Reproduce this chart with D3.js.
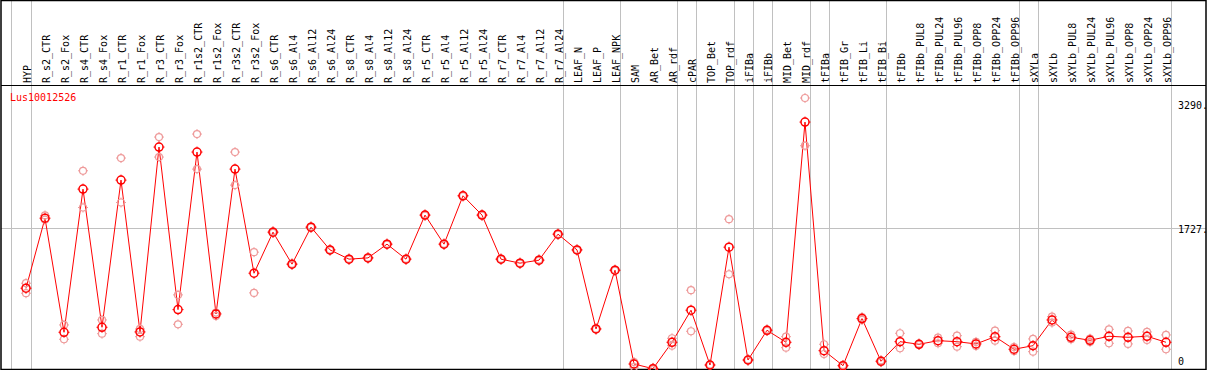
<!DOCTYPE html>
<html>
<head>
<meta charset="utf-8">
<script src="https://cdn.jsdelivr.net/npm/d3@7"></script>
<style>
  body { margin: 0; background: #fff; }
  text { font-family: "DejaVu Sans Mono", monospace; font-size: 10px; }
</style>
</head>
<body>
<div id="chart"></div>
<script>
const geneName = "Lus10012526";

const samples = ["HYP", "R_s2_CTR", "R_s2_Fox", "R_s4_CTR", "R_s4_Fox", "R_r1_CTR", "R_r1_Fox",
  "R_r3_CTR", "R_r3_Fox", "R_r1s2_CTR", "R_r1s2_Fox", "R_r3s2_CTR", "R_r3s2_Fox", "R_s6_CTR",
  "R_s6_Al4", "R_s6_Al12", "R_s6_Al24", "R_s8_CTR", "R_s8_Al4", "R_s8_Al12", "R_s8_Al24",
  "R_r5_CTR", "R_r5_Al4", "R_r5_Al12", "R_r5_Al24", "R_r7_CTR", "R_r7_Al4", "R_r7_Al12",
  "R_r7_Al24", "LEAF_N", "LEAF_P", "LEAF_NPK", "SAM", "AR_Bet", "AR_rdf", "cPAR", "TOP_Bet",
  "TOP_rdf", "iFIBa", "iFIBb", "MID_Bet", "MID_rdf", "tFIBa", "tFIB_Gr", "tFIB_Li", "tFIB_Bi",
  "tFIBb", "tFIBb_PUL8", "tFIBb_PUL24", "tFIBb_PUL96", "tFIBb_OPP8", "tFIBb_OPP24", "tFIBb_OPP96",
  "sXYLa", "sXYLb", "sXYLb_PUL8", "sXYLb_PUL24", "sXYLb_PUL96", "sXYLb_OPP8", "sXYLb_OPP24",
  "sXYLb_OPP96"];

// last sample of each tissue group (a separator is drawn after it)
const groupEnds = ["HYP", "R_r7_Al24", "LEAF_NPK", "AR_rdf", "cPAR", "TOP_rdf", "iFIBa", "iFIBb",
  "MID_rdf", "tFIBa", "tFIB_Bi", "tFIBb_OPP96", "sXYLa", "sXYLb_OPP96"];

const means = [1006, 1847, 477, 2196, 537, 2304, 481, 2701, 749, 2641, 697, 2436, 1186, 1679,
  1295, 1739, 1466, 1355, 1370, 1535, 1355, 1884, 1535, 2116, 1884, 1355, 1307, 1343, 1655,
  1466, 517, 1222, 96, 40, 357, 742, 84, 1499, 144, 501, 357, 3001, 256, 76, 641, 129,
  364, 333, 376, 364, 337, 424, 273, 316, 625, 417, 381, 429, 417, 429, 357];

const rep1 = [1066, 1880, 565, 2416, 625, 2569, 517, 2821, 926, 2857, 713, 2641, 1439, 1690,
  1300, 1745, 1470, 1360, 1375, 1540, 1360, 1890, 1540, 2120, 1890, 1360, 1310, 1350, 1660,
  1470, 520, 1225, 120, 50, 405, 982, 90, 1835, 150, 510, 424, 3290, 333, 85, 660, 140,
  465, 340, 412, 436, 361, 496, 300, 397, 665, 448, 400, 513, 493, 481, 445];

const rep2 = [946, 1828, 393, 1975, 460, 2035, 424, 2581, 573, 2436, 673, 2244, 950, 1670,
  1290, 1735, 1460, 1350, 1365, 1530, 1350, 1878, 1530, 2110, 1878, 1350, 1300, 1336, 1650,
  1460, 512, 1218, 60, 30, 316, 489, 78, 1174, 138, 492, 292, 2717, 216, 68, 625, 118,
  285, 326, 345, 304, 313, 376, 252, 244, 593, 393, 361, 345, 337, 385, 273];

const axisTicks = [3290, 1727, 0];
const axisLabels = ["3290.", "1727.", "0"];

const W = 1209, H = 370;
const headerY = 85.5, plotBottom = 369.5, rightEdge = 1206;

const svg = d3.select("#chart")
  .append("svg")
  .attr("width", W)
  .attr("height", H);

const x = d3.scalePoint()
  .domain(samples)
  .range([26, 26 + 19 * (samples.length - 1)]);
const step = x.step();

const y = d3.scaleLinear()
  .domain([0, 3290])
  .range([372, 98]);

// group separators
const sepX = [x(samples[0]) - step + 3.7].concat(groupEnds.map(s => x(s) + 4.7));
svg.append("g")
  .selectAll("line")
  .data(sepX)
  .join("line")
  .attr("x1", d => Math.round(d) + 0.5)
  .attr("x2", d => Math.round(d) + 0.5)
  .attr("y1", 0)
  .attr("y2", H)
  .attr("stroke", "#c0c0c0");

// horizontal grid line at the middle tick
svg.append("line")
  .attr("x1", 1)
  .attr("x2", rightEdge)
  .attr("y1", Math.round(y(1727)) + 0.5)
  .attr("y2", Math.round(y(1727)) + 0.5)
  .attr("stroke", "#c0c0c0");

// frame
svg.append("rect")
  .attr("x", 1)
  .attr("y", 0.5)
  .attr("width", rightEdge - 1)
  .attr("height", plotBottom - 0.5)
  .attr("fill", "none")
  .attr("stroke", "#000")
  .attr("stroke-width", 1.5);
svg.append("line")
  .attr("x1", 1)
  .attr("x2", rightEdge)
  .attr("y1", headerY)
  .attr("y2", headerY)
  .attr("stroke", "#000");

// rotated sample labels
svg.append("g")
  .selectAll("text")
  .data(samples)
  .join("text")
  .attr("transform", d => `translate(${x(d) + 5},${headerY - 2.5}) rotate(-90)`)
  .attr("text-anchor", "start")
  .text(d => d);

// gene name
svg.append("text")
  .attr("x", 10)
  .attr("y", 101)
  .attr("fill", "#ff0000")
  .text(geneName);

// right axis labels
svg.append("g")
  .selectAll("text")
  .data(axisTicks)
  .join("text")
  .attr("x", 1178)
  .attr("y", d => y(d) + (d === 3290 ? 11 : d === 0 ? -7 : 5))
  .text((d, i) => axisLabels[i]);

const data = samples.map((s, i) => ({ s, mean: means[i], reps: [rep1[i], rep2[i]] }));

function marker(g, r, color, width) {
  g.append("circle")
    .attr("r", r)
    .attr("fill", "none")
    .attr("stroke", color)
    .attr("stroke-width", width);
  g.append("path")
    .attr("d", `M0,${-r - 1.5}V${-r}M0,${r}V${r + 1.5}M${-r - 1.5},0H${-r}M${r},0H${r + 1.5}`)
    .attr("stroke", color)
    .attr("stroke-width", 1);
}

// mean line
svg.append("path")
  .datum(data)
  .attr("fill", "none")
  .attr("stroke", "#ff0000")
  .attr("stroke-width", 1)
  .attr("d", d3.line().x(d => x(d.s)).y(d => y(d.mean)));

// replicates
const reps = data.flatMap(d => d.reps.map(v => ({ s: d.s, v })));
svg.append("g")
  .selectAll("g")
  .data(reps)
  .join("g")
  .attr("transform", d => `translate(${x(d.s)},${y(d.v)})`)
  .each(function () { marker(d3.select(this), 3.5, "#ee9a9a", 1.2); });

// means
svg.append("g")
  .selectAll("g")
  .data(data)
  .join("g")
  .attr("transform", d => `translate(${x(d.s)},${y(d.mean)})`)
  .each(function () { marker(d3.select(this), 4, "#ff0000", 1.5); });
</script>
</body>
</html>
